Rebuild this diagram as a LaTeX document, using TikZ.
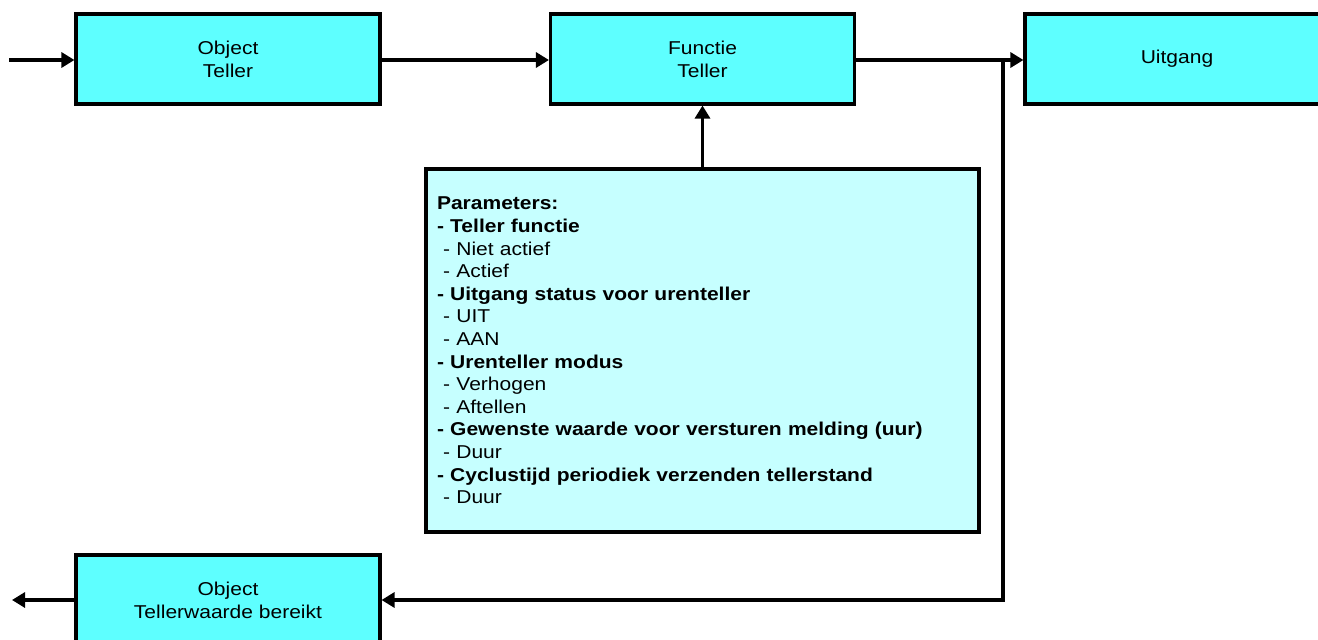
\documentclass[tikz,border=0pt]{standalone}
\usepackage{fontspec}
\setmainfont[FakeStretch=1.13]{Liberation Sans}
\usetikzlibrary{arrows.meta}
\definecolor{boxcyan}{HTML}{5EFFFF}
\definecolor{paramcyan}{HTML}{C6FFFF}
\tikzset{
  block/.style={draw, line width=3.1pt, fill=boxcyan, minimum width=304pt,
    minimum height=90pt, inner sep=0pt, align=center,
    font=\fontsize{18.6}{23}\selectfont},
  parambox/.style={draw, line width=3.1pt, fill=paramcyan, minimum width=553pt,
    minimum height=363pt, inner xsep=11pt, inner ysep=0pt, text width=531pt,
    align=left, font=\fontsize{18.6}{22.6}\selectfont},
  link/.style={line width=3.1pt, -{Triangle[length=13pt,width=15pt]}},
  wire/.style={line width=3.1pt}
}
\begin{document}
\begin{tikzpicture}[x=1pt,y=-1pt]
  \clip (0,0) rectangle (1318,640);
  \fill[white] (0,0) rectangle (1318,640);

  % blocks of the counter chain
  \node[block] (obj) at (228,59) {Object\\Teller};
  \node[block] (fun) at (702.5,59) {Functie\\Teller};
  \node[block] (uit) at (1177,59) {Uitgang};
  \node[block] (reached) at (228,600) {Object\\Tellerwaarde bereikt};

  % parameter list
  \node[parambox] (params) at (702.5,350.5) {%
    \textbf{Parameters:}\\
    \textbf{- Teller functie}\\
    \ - Niet actief\\
    \ - Actief\\
    \textbf{- Uitgang status voor urenteller}\\
    \ - UIT\\
    \ - AAN\\
    \textbf{- Urenteller modus}\\
    \ - Verhogen\\
    \ - Aftellen\\
    \textbf{- Gewenste waarde voor versturen melding (uur)}\\
    \ - Duur\\
    \textbf{- Cyclustijd periodiek verzenden tellerstand}\\
    \ - Duur};

  % free ends and branch point
  \coordinate (in) at (9,60);
  \coordinate (out) at (12,600);
  \coordinate (split) at (1003,60);
  \coordinate (down) at (1003,600);

  % connectors
  \draw[link] (in) -- (obj.west |- in);
  \draw[link] (obj.east |- in) -- (fun.west |- in);
  \draw[wire] (fun.east |- in) -- (split);
  \draw[link] (split) -- (uit.west |- split);
  \draw[link] (params.north) -- (fun.south);
  \draw[link] (split) -- (down) -- (reached.east |- down);
  \draw[link] (reached.west |- out) -- (out);
\end{tikzpicture}
\end{document}
